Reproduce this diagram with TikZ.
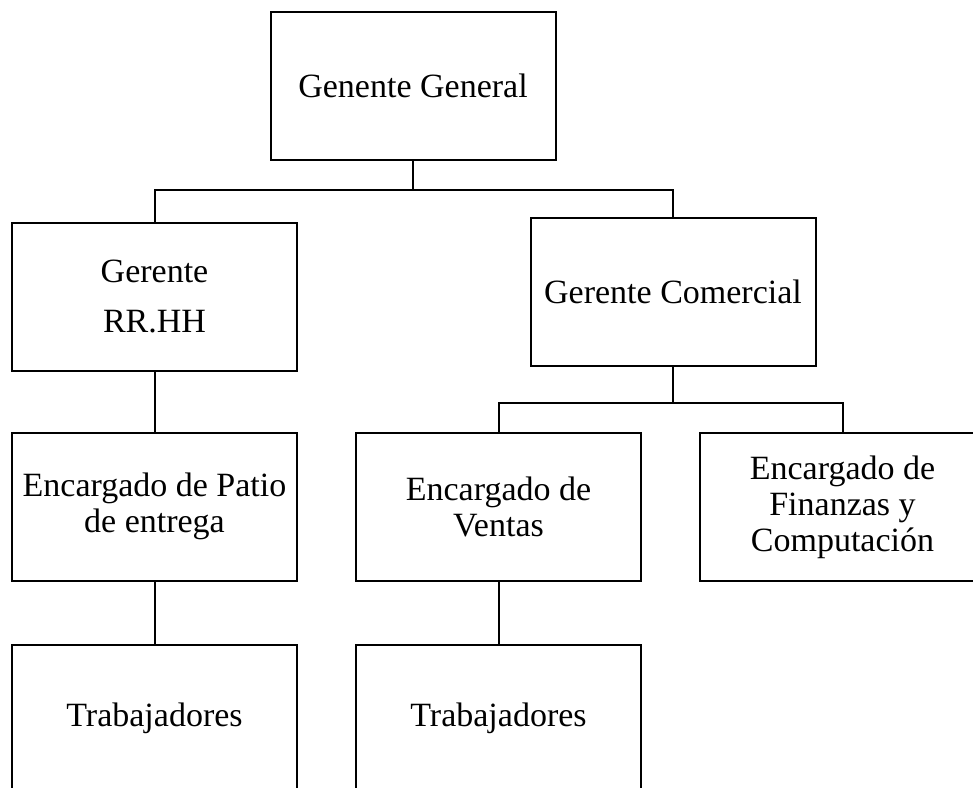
\documentclass[tikz,border=0pt]{standalone}
\usepackage{fontspec}
\setmainfont{Liberation Serif}
\begin{document}
\begin{tikzpicture}[x=1pt, y=-1pt,
        box/.style = {draw, line width=2pt, minimum width=285pt, minimum height=148pt, align=center, font=\fontsize{34}{36}\selectfont},
        link/.style = {line width=2pt}]
            \useasboundingbox (0,0) rectangle (973,787);
            \clip (0,0) rectangle (973,787);
            \node[box] (gg) at (413,86) {Genente General};
            \node[box] (rrhh) at (154.5,296.5) {Gerente\\[14pt]RR.HH};
            \node[box] (com) at (673,292) {Gerente Comercial};
            \node[box] (patio) at (154.5,506.5) {Encargado de Patio\\de entrega};
            \node[box] (ventas) at (498.5,506.5) {Encargado de\\Ventas};
            \node[box] (fin) at (842.5,507) {Encargado de\\Finanzas y\\Computación};
            \node[box] (trab1) at (154.5,718.5) {Trabajadores};
            \node[box] (trab2) at (498.5,718.5) {Trabajadores};
            \draw[link] (gg.south) -- ++(0,29) -| (rrhh.north);
            \draw[link] (gg.south) -- ++(0,29) -| (com.north);
            \draw[link] (rrhh.south) -- (patio.north);
            \draw[link] (patio.south) -- (trab1.north);
            \draw[link] (com.south) -- ++(0,36) -| (ventas.north);
            \draw[link] (com.south) -- ++(0,36) -| (fin.north);
            \draw[link] (ventas.south) -- (trab2.north);
        \end{tikzpicture}
\end{document}
